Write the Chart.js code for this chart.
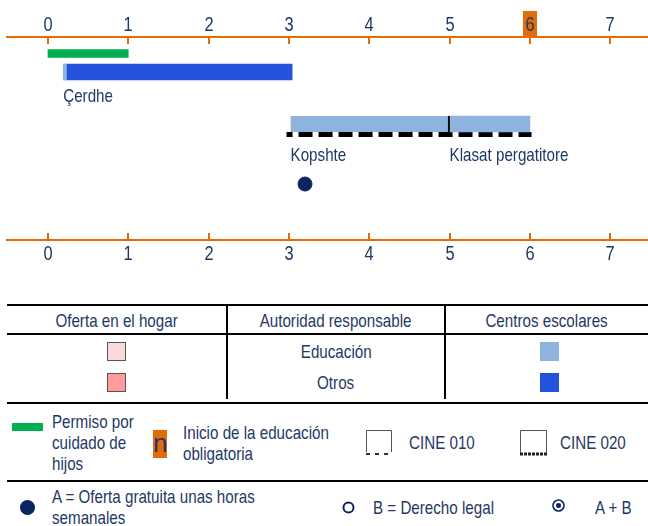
<!DOCTYPE html>
<html><head><meta charset="utf-8">
<script src="https://cdn.jsdelivr.net/npm/chart.js@4"></script>
<style>
body{margin:0;width:648px;height:526px;position:relative;background:#fff;font-family:"Liberation Sans",Arial,sans-serif;color:#1F3864;overflow:hidden}
#wrap{position:absolute;left:0;top:0;width:648px;height:280px}
.t{position:absolute;white-space:nowrap;font-size:18.5px;line-height:21px}
.n{display:inline-block;transform:scaleX(.82);transform-origin:left center}
.c{text-align:center}
.c .n{transform-origin:center center}
.hl{position:absolute;background:#000;height:2px;left:7px;width:641px}
.vl{position:absolute;background:#000;width:2px}
.sw{position:absolute;width:19px;height:19px;box-sizing:border-box}
</style>
</head><body>
<div id="wrap"><canvas id="c"></canvas></div>
<div id="bottom"></div>
<script>
// ---- data ----
const ageTicks = [0, 1, 2, 3, 4, 5, 6, 7];
const compulsoryAge = 6;
const leaveRange = [0, 1];
const cerdheEduRange = [0.19, 0.23];
const cerdheOtherRange = [0.23, 3.04];
const kopshteRange = [3.02, 5];
const prepRange = [5, 6];
const cine020Range = [2.97, 6.02];
const freeHoursAge = [3.2];
const settingNames = ["Çerdhe", "Kopshte", "Klasat pergatitore"];
const settingStarts = [0.19, 3.02, 5];

const tableHeaders = ["Oferta en el hogar", "Autoridad responsable", "Centros escolares"];
const authorities = ["Educación", "Otros"];

// ---- style / layout ----
const ORANGE = '#E36C0A', NAVY = '#1F3864', GREEN = '#00B050', LBLUE = '#8DB3DE', BLUE = '#2352DD', DOT = '#0C2461';
const FAM = '"Liberation Sans",Arial,sans-serif';
const SQ = 0.82; // horizontal squeeze to imitate a narrow face
const ROW = {leave: 16.5, cerdhe: 35, cerdheLabel: 60, kopshte: 87, dash: 97.5, kopLabel: 119, dot: 147};
const settingRows = [ROW.cerdheLabel, ROW.kopLabel, ROW.kopLabel];

function narrowText(ctx, text, x, y, align) {
  ctx.save();
  ctx.translate(x, y);
  ctx.scale(SQ, 1);
  ctx.textAlign = align;
  ctx.fillText(text, 0, 0);
  ctx.restore();
}

const overlay = {
  id: 'overlay',
  beforeDraw(chart) {
    const ctx = chart.ctx, x = chart.scales.x;
    const px = x.getPixelForValue(compulsoryAge);
    ctx.save();
    ctx.fillStyle = ORANGE;
    ctx.fillRect(Math.round(px) - 7, 11, 14, x.bottom - 11);
    ctx.restore();
  },
  afterDraw(chart) {
    const ctx = chart.ctx, x = chart.scales.x, x2 = chart.scales.x2, y = chart.scales.y;
    ctx.save();
    ctx.strokeStyle = ORANGE; ctx.lineWidth = 2;
    ctx.fillStyle = NAVY;
    ctx.textBaseline = 'middle';
    ctx.font = '20px ' + FAM;
    ageTicks.forEach(v => {
      const p = Math.round(x.getPixelForValue(v));
      ctx.beginPath(); ctx.moveTo(p, x.bottom); ctx.lineTo(p, x.bottom + 7); ctx.stroke();
      narrowText(ctx, String(v), p, x.bottom - 11.5, 'center');
      const p2 = Math.round(x2.getPixelForValue(v));
      ctx.beginPath(); ctx.moveTo(p2, x2.top); ctx.lineTo(p2, x2.top - 7); ctx.stroke();
      narrowText(ctx, String(v), p2, x2.top + 14.5, 'center');
    });
    ctx.font = '18.5px ' + FAM;
    settingNames.forEach((n, i) => {
      narrowText(ctx, n, x.getPixelForValue(settingStarts[i]), y.getPixelForValue(settingRows[i]), 'left');
    });
    ctx.restore();
  }
};

const xCommon = {
  type: 'linear', min: -0.51, max: 7.47, offset: false,
  afterBuildTicks: s => { s.ticks = ageTicks.map(v => ({value: v})); },
  grid: {display: false, drawTicks: false, offset: false},
  border: {color: ORANGE, width: 2},
  ticks: {color: 'rgba(0,0,0,0)', font: {size: 20, family: FAM}, padding: 4}
};

new Chart(document.getElementById('c'), {
  type: 'bar',
  data: {
    datasets: [
      {type: 'bar', data: [{x: leaveRange, y: ROW.leave}], backgroundColor: GREEN, barThickness: 8},
      {type: 'bar', data: [{x: cerdheEduRange, y: ROW.cerdhe}], backgroundColor: LBLUE, barThickness: 16},
      {type: 'bar', data: [{x: cerdheOtherRange, y: ROW.cerdhe}], backgroundColor: BLUE, barThickness: 16},
      {type: 'bar', data: [{x: kopshteRange, y: ROW.kopshte}], backgroundColor: LBLUE, barThickness: 16,
        borderColor: '#000', borderWidth: {left: 0, top: 0, bottom: 0, right: 2}, borderSkipped: false},
      {type: 'bar', data: [{x: prepRange, y: ROW.kopshte}], backgroundColor: LBLUE, barThickness: 16},
      {type: 'line', data: cine020Range.map(v => ({x: v, y: ROW.dash})), borderColor: '#000', borderWidth: 5, borderDash: [14, 6], borderDashOffset: 8, pointRadius: 0},
      {type: 'scatter', data: freeHoursAge.map(v => ({x: v, y: ROW.dot})), backgroundColor: DOT, borderColor: DOT, pointRadius: 7}
    ]
  },
  options: {
    indexAxis: 'y',
    responsive: true, maintainAspectRatio: false, animation: false, events: [],
    datasets: {bar: {grouped: false}},
    layout: {autoPadding: false, padding: {left: 7, right: 0, top: 0, bottom: 0}},
    plugins: {legend: {display: false}, tooltip: {enabled: false}},
    scales: {
      x: Object.assign({}, xCommon, {position: 'top', afterFit: s => { s.height = 37; }}),
      x2: Object.assign({}, xCommon, {position: 'bottom', afterFit: s => { s.height = 40; }}),
      y: {type: 'linear', display: false, min: 0, max: 203, reverse: true, offset: false, grid: {offset: false}}
    }
  },
  plugins: [overlay]
});

// ---- table & legend (HTML) ----
const B = document.getElementById('bottom');
function add(html) { B.insertAdjacentHTML('beforeend', html); }
const colL = [7, 227, 445], colR = [227, 445, 648];
add('<div class="hl" style="top:304px"></div>');
add('<div class="hl" style="top:333px"></div>');
add('<div class="hl" style="top:402px"></div>');
add('<div class="vl" style="left:226px;top:305px;height:94px"></div>');
add('<div class="vl" style="left:444px;top:305px;height:94px"></div>');
tableHeaders.forEach((h, i) => add(`<div class="t c" style="left:${colL[i]}px;width:${colR[i]-colL[i]}px;top:310px"><span class="n">${h}</span></div>`));
const rowY = [352, 383];
const homeCols = ['#FADADD', '#FF9B9E'];
const schoolCols = [LBLUE, BLUE];
authorities.forEach((a, i) => {
  add(`<div class="t c" style="left:227px;width:218px;top:${rowY[i]-11}px"><span class="n">${a}</span></div>`);
  add(`<div class="sw" style="left:107px;top:${rowY[i]-10}px;background:${homeCols[i]};border:1.5px solid #555"></div>`);
  add(`<div class="sw" style="left:540px;top:${rowY[i]-10}px;background:${schoolCols[i]}"></div>`);
});
// legend
add(`<div style="position:absolute;left:12px;top:423px;width:31px;height:8px;background:${GREEN}"></div>`);
add('<div class="t" style="left:52px;top:411px"><span class="n">Permiso por<br>cuidado de<br>hijos</span></div>');
add(`<div style="position:absolute;left:153px;top:430px;width:14px;height:28px;background:${ORANGE};color:${NAVY};font-size:26px;line-height:27px;text-align:center">n</div>`);
add('<div class="t" style="left:183px;top:422px"><span class="n">Inicio de la educación<br>obligatoria</span></div>');
add('<svg style="position:absolute;left:365px;top:429px" width="28" height="28"><path d="M1.5,23 V1.5 H26.5 V23" fill="none" stroke="#555" stroke-width="1"/><line x1="1" y1="25" x2="27" y2="25" stroke="#333" stroke-width="2" stroke-dasharray="4,5"/></svg>');
add('<div class="t" style="left:409px;top:432px"><span class="n">CINE 010</span></div>');
add('<svg style="position:absolute;left:519px;top:429px" width="29" height="28"><path d="M1.5,24 V1.5 H27.5 V24" fill="none" stroke="#555" stroke-width="1"/><line x1="1" y1="25" x2="28" y2="25" stroke="#222" stroke-width="3" stroke-dasharray="3,1"/></svg>');
add('<div class="t" style="left:560px;top:432px"><span class="n">CINE 020</span></div>');
add('<div class="hl" style="top:480px"></div>');
add(`<div style="position:absolute;left:20px;top:500px;width:15px;height:15px;border-radius:50%;background:${DOT}"></div>`);
add('<div class="t" style="left:52px;top:486px"><span class="n">A = Oferta gratuita unas horas<br>semanales</span></div>');
add(`<svg style="position:absolute;left:341px;top:500px" width="15" height="15"><circle cx="7.5" cy="7.5" r="5" fill="none" stroke="${DOT}" stroke-width="2"/></svg>`);
add('<div class="t" style="left:373px;top:497px"><span class="n">B = Derecho legal</span></div>');
add(`<svg style="position:absolute;left:551px;top:498px" width="15" height="15"><circle cx="7.5" cy="7.5" r="5.5" fill="none" stroke="${DOT}" stroke-width="1.6"/><circle cx="7.5" cy="7.5" r="2.5" fill="${DOT}"/></svg>`);
add('<div class="t" style="left:595px;top:497px"><span class="n">A + B</span></div>');
</script>
</body></html>
